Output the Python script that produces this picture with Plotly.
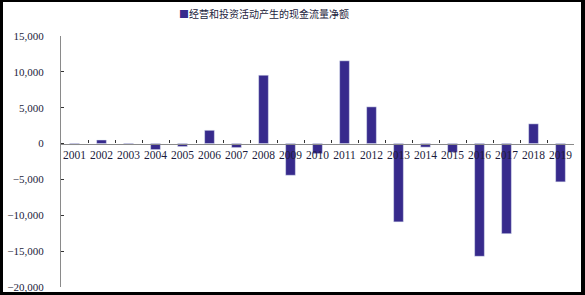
import plotly.graph_objects as go

years = [str(y) for y in range(2001, 2020)]
values = [-200, 500, -150, -840, -420, 1850, -560, 9530, -4420, -1400,
          11540, 5120, -10920, -500, -1220, -15720, -12560, 2750, -5340]
series_name = "经营和投资活动产生的现金流量净额"
y_ticks = [15000, 10000, 5000, 0, -5000, -10000, -15000, -20000]

bar_color = "#372a8c"
text_color = "#1c1c3c"
axis_color = "#8a8a8a"

L, R, T, B = 61, 11, 36, 8
W, H = 585, 295
pw, ph = W - L - R, H - T - B

def px_x(x):
    return (x - L) / pw

def px_y(y):
    return (H - B - y) / ph

fig = go.Figure()
fig.add_trace(go.Bar(x=years, y=values, name=series_name, marker_color=bar_color,
                     width=0.36, showlegend=False))

ymin, ymax = -20000, 15000
fig.update_layout(
    width=W, height=H,
    margin=dict(l=L, r=R, t=T, b=B, autoexpand=False),
    paper_bgcolor="black",
    plot_bgcolor="rgba(0,0,0,0)",
    font=dict(family="'Liberation Serif', 'DejaVu Serif', serif", size=11, color=text_color),
    xaxis=dict(
        type="category", anchor="free", position=(0 - ymin) / (ymax - ymin),
        showline=True, linecolor=axis_color, linewidth=1.3,
        ticks="inside", ticklen=3, tickcolor="#333333", tickson="boundaries",
        showgrid=False, zeroline=False, tickfont=dict(size=11.5),
        tickangle=0, automargin=False,
        range=[-0.5, len(years) - 0.5],
    ),
    yaxis=dict(
        range=[ymin, ymax], domain=[0, 1],
        tickvals=y_ticks, tickformat=",",
        showline=True, linecolor=axis_color, linewidth=1.3,
        ticks="inside", ticklen=3, tickcolor="#333333",
        showgrid=False, zeroline=False, ticklabelstandoff=14,
        tickfont=dict(size=11), automargin=False,
    ),
    shapes=[dict(type="rect", xref="paper", yref="paper",
                 x0=px_x(3), x1=px_x(581), y0=px_y(292), y1=px_y(2),
                 fillcolor="white", line=dict(width=0), layer="below")],
    annotations=[dict(
        xref="paper", yref="paper", x=px_x(264), y=px_y(13),
        xanchor="center", yanchor="middle", showarrow=False,
        text=f"<span style='color:{bar_color}'>■</span>{series_name}",
        font=dict(family="Noto Sans CJK SC", size=10, color=text_color),
    )],
    bargap=0.6,
)

fig.write_html("out.html")
